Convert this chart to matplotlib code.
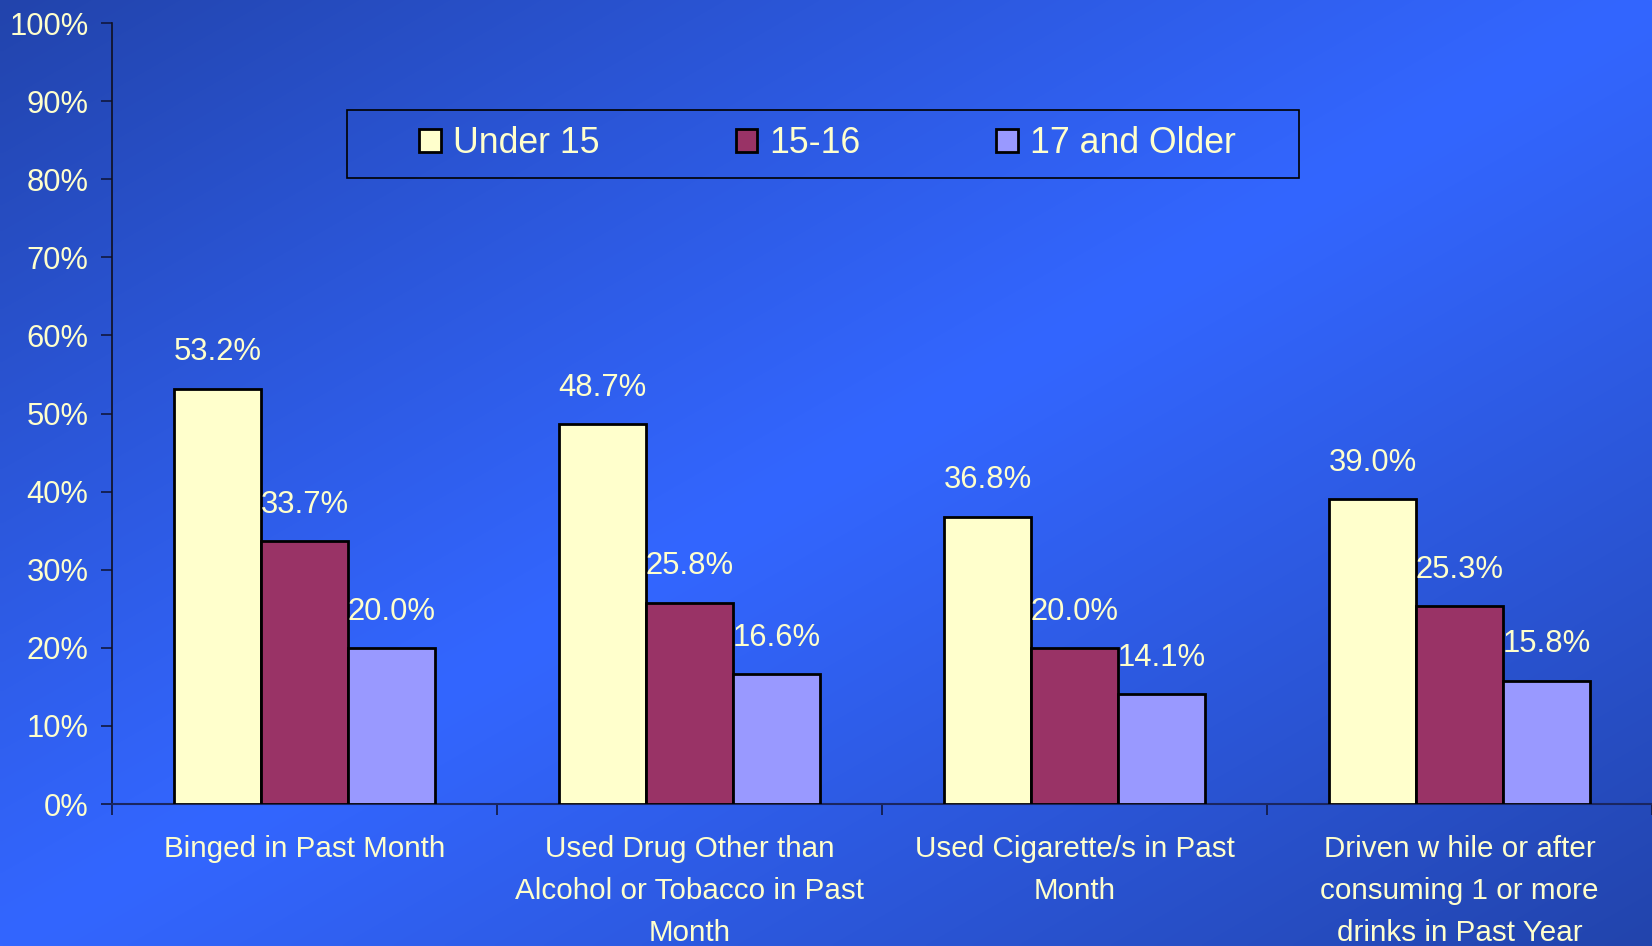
import numpy as np
import matplotlib.pyplot as plt
from matplotlib.patches import Patch, Rectangle

plt.rcParams['font.family'] = ['Liberation Sans', 'DejaVu Sans']

# Data
categories = [
    "Binged in Past Month",
    "Used Drug Other than\nAlcohol or Tobacco in Past\nMonth",
    "Used Cigarette/s in Past\nMonth",
    "Driven w hile or after\nconsuming 1 or more\ndrinks in Past Year",
]
series_names = ["Under 15", "15-16", "17 and Older"]
under_15 = [53.2, 48.7, 36.8, 39.0]
age_15_16 = [33.7, 25.8, 20.0, 25.3]
age_17_plus = [20.0, 16.6, 14.1, 15.8]

colors = ["#FFFFCC", "#993366", "#9999FF"]
text_color = "#FFFFCC"

fig = plt.figure(figsize=(16.52, 9.46), dpi=100)

# gradient background
bg = fig.add_axes([0, 0, 1, 1], zorder=-10)
xx, yy = np.meshgrid(np.linspace(0, 1, 300), np.linspace(0, 1, 300))
t = (xx + yy) / 2
f = 1 - np.abs(2 * t - 1) ** 1.1
dark = np.array([0x22, 0x44, 0xAC]) / 255
bright = np.array([0x33, 0x66, 0xFF]) / 255
img = dark[None, None, :] + (bright - dark)[None, None, :] * f[:, :, None]
bg.imshow(img, aspect='auto', extent=[0, 1, 1, 0], interpolation='bilinear')
bg.set_axis_off()

ax = fig.add_axes([112 / 1652, 1 - 804 / 946, 1540 / 1652, 781 / 946])
ax.patch.set_alpha(0)

x = np.arange(len(categories))
w = 0.226
all_series = [under_15, age_15_16, age_17_plus]
for i, (vals, c) in enumerate(zip(all_series, colors)):
    pos = x + (i - 1) * w
    ax.bar(pos, vals, width=w, color=c, edgecolor='black', linewidth=2, zorder=3)
    for p, v in zip(pos, vals):
        ax.annotate(f"{v:.1f}%", (p, v), xytext=(0, 26), textcoords='offset points',
                    ha='center', va='center', fontsize=22.3, color=text_color)

ax.set_xlim(-0.5, len(categories) - 0.5)
ax.set_ylim(0, 100)
ax.set_yticks(np.arange(0, 101, 10))
ax.set_yticklabels([f"{v}%" for v in range(0, 101, 10)])
ax.tick_params(axis='y', direction='out', length=8, width=1.2, colors='#101840',
               labelcolor=text_color, labelsize=22.2, pad=9)

ax.set_xticks(np.arange(-0.5, len(categories)), labels=[''] * (len(categories) + 1))
ax.set_xticks(x, labels=categories, minor=True)
ax.tick_params(axis='x', which='major', direction='out', length=8, width=1.2, colors='#101840')
ax.tick_params(axis='x', which='minor', length=0, pad=22, labelsize=21.3, labelcolor=text_color)
for lbl in ax.get_xticklabels(minor=True):
    lbl.set_linespacing(1.64)
    lbl.set_va('top')

ax.spines['top'].set_visible(False)
ax.spines['right'].set_visible(False)
ax.spines['left'].set_color('#101020')
ax.spines['bottom'].set_color('#1a2660')
ax.spines['left'].set_linewidth(1.2)
ax.spines['bottom'].set_linewidth(1.5)

# legend box drawn manually
ax.add_patch(Rectangle((0.1526, 0.8015), 0.7708 - 0.1526, 0.8886 - 0.8015,
                       transform=ax.transAxes, fill=False, edgecolor='black', linewidth=1.2,
                       zorder=4))
handles = [Patch(facecolor=c, edgecolor='black', linewidth=2) for c in colors]
leg = ax.legend(handles, series_names, ncol=3, frameon=False, loc='center',
                bbox_to_anchor=(0.4648, 0.846), fontsize=25.7, labelcolor=text_color,
                handlelength=0.6, handleheight=0.6, handletextpad=0.35,
                columnspacing=3.8)

fig.savefig("out.png", dpi=100)
